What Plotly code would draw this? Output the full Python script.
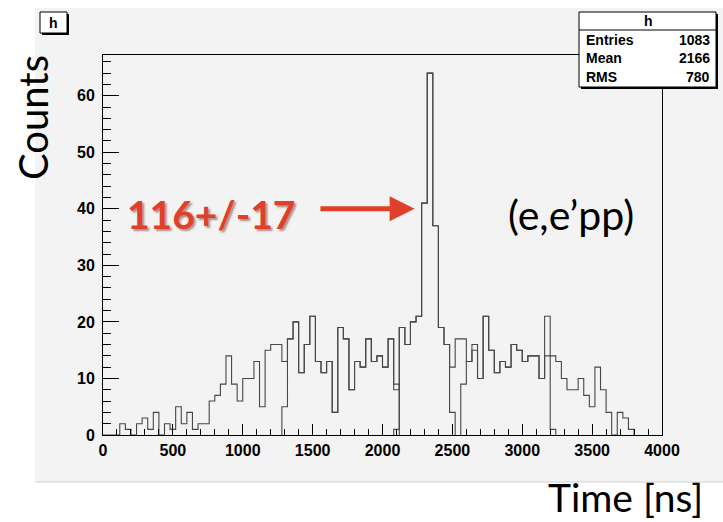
import plotly.graph_objects as go

# ---------------------------------------------------------------- data
BIN_WIDTH = 40          # ns per bin (100 bins over 0-4000 ns)
X_RANGE = [0, 4000]
Y_RANGE = [0, 67.2]

# full spectrum, bins 0..80
main_counts = [
    0, 0, 0, 2, 1, 0, 2, 3, 1, 4, 0, 2, 1, 5, 2, 4, 1, 2, 2, 6,
    7, 9, 14, 9, 6, 10, 10, 13, 5, 15, 16, 16, 13,
    17, 20, 11, 16, 21, 13, 11, 13, 4, 19, 17, 8, 13, 12, 17, 13, 14, 12, 17,
    8,
    19, 16, 20, 21, 41, 64, 37, 19, 16,
    12, 17, 17, 13, 16, 10, 21, 15, 11, 13, 12, 16, 15, 13, 14, 14, 10, 21, 1,
]

# overlaid sub-spectra: (first bin, counts)
mid_start = 32
mid_counts = [5, 17, 20, 11, 16, 21, 13, 11, 13, 4, 19, 17, 8, 13, 12, 17, 13, 14,
              12, 17, 9]
peak_start = 52
peak_counts = [1, 19, 16, 20, 21, 41, 64, 37, 19, 16, 4]
tail_start = 64
tail_counts = [9, 13, 15, 10, 21, 15, 11, 13, 12, 16, 15, 13, 14, 14, 10, 14, 14,
               13, 10, 8, 8, 10, 7, 5, 12, 8, 4, 0, 4, 3, 1]

stats_rows = [("Entries", "1083"), ("Mean", "2166"), ("RMS", "780")]
hist_name = "h"

# ---------------------------------------------------------------- layout geometry
W, H = 723, 522
FL, FR, FT, FB = 103, 662, 55, 435     # frame edges in pixels


def px(x):
    return (x - FL) / (FR - FL)


def py(y):
    return (FB - y) / (FB - FT)


def step_path(start_bin, counts):
    """Histogram outline from zero to zero for a run of bins."""
    xs, ys = [start_bin * BIN_WIDTH], [0]
    hi = start_bin * BIN_WIDTH
    for i, c in enumerate(counts):
        lo = (start_bin + i) * BIN_WIDTH
        hi = lo + BIN_WIDTH
        xs += [lo, hi]
        ys += [c, c]
    xs.append(hi)
    ys.append(0)
    return xs, ys


LINE = "#474747"
fig = go.Figure()
for start, counts in [(0, main_counts), (mid_start, mid_counts),
                      (peak_start, peak_counts), (tail_start, tail_counts)]:
    xs, ys = step_path(start, counts)
    fig.add_trace(go.Scatter(x=xs, y=ys, mode="lines",
                             line=dict(color=LINE, width=1.1),
                             hoverinfo="skip", showlegend=False))

CANVAS = "#f3f3f3"
tickfont = dict(family="Liberation Sans, Arial, sans-serif", size=16,
                color="black", weight="bold")

fig.update_layout(
    width=W, height=H,
    margin=dict(l=FL, r=W - FR, t=FT, b=H - FB, pad=0),
    paper_bgcolor="white",
    plot_bgcolor=CANVAS,
    showlegend=False,
    xaxis=dict(range=X_RANGE, dtick=500, tick0=0, ticks="inside", ticklen=11,
               tickcolor="black", tickwidth=1,
               minor=dict(dtick=100, ticks="inside", ticklen=6,
                          tickcolor="black"),
               showgrid=False, zeroline=False, showline=True, mirror=True,
               linecolor="black", linewidth=1, tickfont=tickfont,
               ticklabelstandoff=1),
    yaxis=dict(range=Y_RANGE, dtick=10, tick0=0, ticks="inside", ticklen=16,
               tickcolor="black", tickwidth=1,
               minor=dict(dtick=2, ticks="inside", ticklen=8,
                          tickcolor="black"),
               showgrid=False, zeroline=False, showline=True, mirror=True,
               linecolor="black", linewidth=1, tickfont=tickfont,
               ticklabelstandoff=4),
)

shapes = []
# canvas background
shapes.append(dict(type="rect", xref="paper", yref="paper",
                   x0=px(35), x1=px(723), y0=py(482), y1=py(8),
                   fillcolor=CANVAS, line=dict(width=0), layer="below"))
shapes.append(dict(type="line", xref="paper", yref="paper",
                   x0=px(35), x1=px(723), y0=py(482), y1=py(482),
                   line=dict(color="#d0d0d0", width=1), layer="below"))


def boxed(x0, y0, x1, y1, shadow=3):
    shapes.append(dict(type="rect", xref="paper", yref="paper",
                       x0=px(x0 + shadow), x1=px(x1 + shadow),
                       y0=py(y1 + shadow), y1=py(y0 + shadow),
                       fillcolor="black", line=dict(width=0)))
    shapes.append(dict(type="rect", xref="paper", yref="paper",
                       x0=px(x0), x1=px(x1), y0=py(y1), y1=py(y0),
                       fillcolor="white", line=dict(color="black", width=1)))


# title box
boxed(40, 12, 67, 33, shadow=2)
# statistics box
boxed(579, 12, 716, 87, shadow=2)
shapes.append(dict(type="line", xref="paper", yref="paper",
                   x0=px(579), x1=px(716), y0=py(30), y1=py(30),
                   line=dict(color="black", width=1)))

annotations = []
boxfont = dict(family="Liberation Sans, Arial, sans-serif", size=14,
               color="black", weight="bold")
annotations.append(dict(xref="paper", yref="paper", x=px(53.5), y=py(22.5),
                        text=hist_name, showarrow=False, font=boxfont,
                        xanchor="center", yanchor="middle"))
annotations.append(dict(xref="paper", yref="paper", x=px(648), y=py(21),
                        text=hist_name, showarrow=False, font=boxfont,
                        xanchor="center", yanchor="middle"))
for i, (label, value) in enumerate(stats_rows):
    yc = 40 + i * 18.5
    annotations.append(dict(xref="paper", yref="paper", x=px(584), y=py(yc),
                            text=label, showarrow=False, font=boxfont,
                            xanchor="left", yanchor="middle"))
    annotations.append(dict(xref="paper", yref="paper", x=px(712), y=py(yc),
                            text=value, showarrow=False, font=boxfont,
                            xanchor="right", yanchor="middle"))

bigfont = dict(family="Lato, Open Sans, sans-serif", size=40, color="black")
annotations.append(dict(xref="paper", yref="paper", x=px(33), y=py(118),
                        text="Counts", textangle=-90, showarrow=False,
                        font=bigfont, xanchor="center", yanchor="middle"))
annotations.append(dict(xref="paper", yref="paper", x=px(625), y=py(497),
                        text="Time [ns]", showarrow=False,
                        font=dict(family="Lato, Open Sans, sans-serif", size=39,
                                  color="black"),
                        xanchor="center", yanchor="middle"))
annotations.append(dict(xref="paper", yref="paper", x=px(571), y=py(214),
                        text="(e,e\u2019pp)", showarrow=False,
                        font=dict(family="Lato, Open Sans, sans-serif", size=41,
                                  color="black"),
                        xanchor="center", yanchor="middle"))

# signal estimate with arrow to the coincidence peak
RED = "#e0402a"
annotations.append(dict(xref="paper", yref="paper", x=px(211), y=py(214),
                        text="<b>116+/-17</b>", showarrow=False,
                        font=dict(family="Lato, Open Sans, sans-serif", size=39,
                                  color=RED,
                                  shadow="2px 2px 2px rgba(90,20,10,0.45)"),
                        xanchor="center", yanchor="middle"))
annotations.append(dict(x=2230, y=40, xref="x", yref="y",
                        ax=1545, ay=40, axref="x", ayref="y",
                        text="", showarrow=True, arrowhead=2, arrowsize=1,
                        arrowwidth=5, arrowcolor=RED))

fig.update_layout(shapes=shapes, annotations=annotations)
fig.write_html("out.html")
